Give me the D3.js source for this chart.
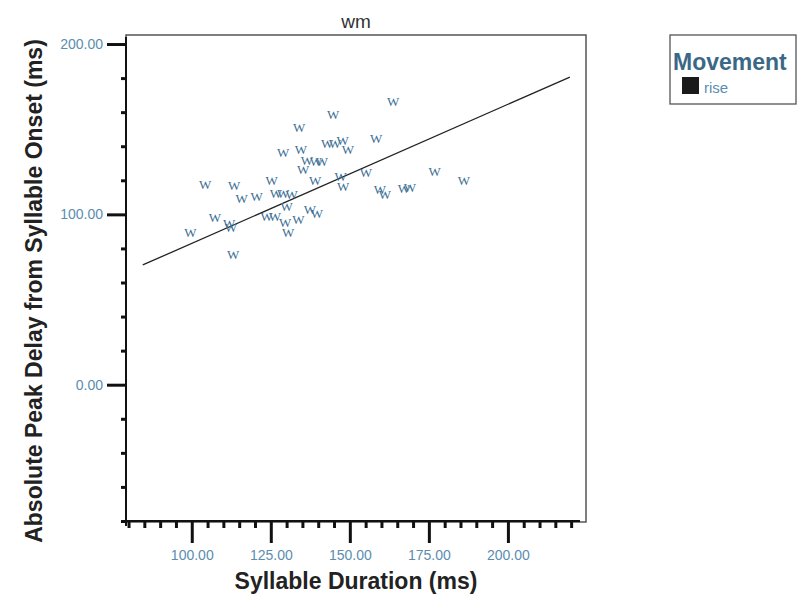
<!DOCTYPE html>
<html>
<head>
<meta charset="utf-8">
<script src="https://cdn.jsdelivr.net/npm/d3@7"></script>
<style>
  html, body { margin: 0; padding: 0; background: #fff; }
  svg { display: block; }
</style>
</head>
<body>
<svg id="chart" width="799" height="599"></svg>
<script>
// Syllable duration (ms) for each "rise" token of speaker wm
const duration = [
  99.6, 104.2, 107.3, 111.8, 112.4, 113.1, 113.4, 115.8, 120.5, 125.3,
  123.7, 126.3, 126.6, 128.9, 131.6, 130.0, 129.5, 133.7, 130.5, 137.4,
  139.6, 134.0, 128.9, 134.5, 136.4, 139.3, 141.2, 135.2, 139.0, 147.1,
  147.9, 144.7, 163.7, 158.3, 142.8, 145.3, 147.7, 149.4, 155.1, 159.5,
  161.1, 167.1, 169.0, 176.8, 186.1
];
// Absolute peak delay from syllable onset (ms), same order
const peakDelay = [
  89.2, 117.6, 98.3, 94.7, 92.3, 76.4, 117.2, 109.6, 110.4, 120.2,
  98.7, 98.7, 112.4, 112.5, 111.4, 104.9, 95.3, 97.1, 89.6, 102.6,
  100.8, 151.1, 136.4, 138.4, 131.9, 131.3, 131.3, 126.3, 120.2, 122.5,
  116.1, 158.9, 166.5, 144.6, 141.9, 141.9, 143.6, 138.4, 124.9, 114.9,
  111.4, 115.2, 115.8, 125.4, 120.2
];
// Fit line end points (duration, delay)
const fitDuration = [84.5, 219.6];
const fitDelay = [70.3, 180.6];

const xMajorTicks = [100, 125, 150, 175, 200];
const xMinorTicks = d3.range(80, 221, 5).filter(v => !xMajorTicks.includes(v));
const yMajorTicks = [0, 100, 200];
const yMinorTicks = d3.range(-80, 201, 20).filter(v => !yMajorTicks.includes(v));

const panelTitle = "wm";
const xTitle = "Syllable Duration (ms)";
const yTitle = "Absolute Peak Delay from Syllable Onset (ms)";
const legendTitle = "Movement";
const legendLabels = ["rise"];
const markerGlyph = "w";

const svg = d3.select("#chart");
const frame = { left: 126, right: 586, top: 35, bottom: 522 };

const x = d3.scaleLinear().domain([79.2, 224.7]).range([frame.left, frame.right]);
const y = d3.scaleLinear().domain([-80.6, 205.3]).range([frame.bottom, frame.top]);

const fmt = d3.format(".2f");
const tickColor = "#5b8db0";
const sans = "'Liberation Sans', Arial, Helvetica, sans-serif";

svg.append("rect").attr("width", 799).attr("height", 599).attr("fill", "#fff");

// plot frame
svg.append("rect")
  .attr("x", frame.left).attr("y", frame.top)
  .attr("width", frame.right - frame.left).attr("height", frame.bottom - frame.top)
  .attr("fill", "none").attr("stroke", "#555").attr("stroke-width", 1.5);

function styleAxis(g, width) {
  g.select(".domain").remove();
  g.selectAll(".tick line").attr("stroke", "#111").attr("stroke-width", width);
  g.selectAll(".tick text")
    .attr("fill", tickColor)
    .style("font-family", sans)
    .style("font-size", "14px");
}

// x axis: minor then major ticks
svg.append("g").attr("transform", `translate(0,${frame.bottom})`)
  .call(d3.axisBottom(x).tickValues(xMinorTicks).tickSize(6).tickFormat(""))
  .call(g => styleAxis(g, 3));
svg.append("g").attr("transform", `translate(0,${frame.bottom})`)
  .call(d3.axisBottom(x).tickValues(xMajorTicks).tickSize(21).tickPadding(7).tickFormat(fmt))
  .call(g => styleAxis(g, 3));
svg.append("line")
  .attr("x1", frame.left - 2).attr("x2", frame.right - 6)
  .attr("y1", frame.bottom - 1).attr("y2", frame.bottom - 1)
  .attr("stroke", "#111").attr("stroke-width", 2);

// y axis: minor then major ticks
svg.append("g").attr("transform", `translate(${frame.left},0)`)
  .call(d3.axisLeft(y).tickValues(yMinorTicks).tickSize(5).tickFormat(""))
  .call(g => styleAxis(g, 3));
svg.append("g").attr("transform", `translate(${frame.left},0)`)
  .call(d3.axisLeft(y).tickValues(yMajorTicks).tickSize(19).tickPadding(4).tickFormat(fmt))
  .call(g => styleAxis(g, 3));
svg.append("line")
  .attr("x1", frame.left).attr("x2", frame.left)
  .attr("y1", frame.top + 2).attr("y2", frame.bottom + 4)
  .attr("stroke", "#111").attr("stroke-width", 2);

// fit line
const fitPts = fitDuration.map((d, i) => [d, fitDelay[i]]);
svg.append("path")
  .datum(fitPts)
  .attr("d", d3.line().x(d => x(d[0])).y(d => y(d[1])))
  .attr("fill", "none").attr("stroke", "#222").attr("stroke-width", 1.3);

// markers
svg.append("g").selectAll("text")
  .data(duration.map((d, i) => [d, peakDelay[i]]))
  .join("text")
  .attr("x", d => x(d[0]))
  .attr("y", d => y(d[1]))
  .attr("text-anchor", "middle")
  .attr("dy", "0.35em")
  .attr("fill", "#3c6f95")
  .style("font-family", "'Liberation Serif', 'Times New Roman', serif")
  .style("font-size", "13px")
  .text(markerGlyph.toUpperCase());

// panel title
svg.append("text")
  .attr("x", (frame.left + frame.right) / 2).attr("y", 28)
  .attr("text-anchor", "middle")
  .attr("fill", "#333")
  .style("font-family", sans).style("font-size", "19px")
  .text(panelTitle);

// axis titles
svg.append("text")
  .attr("x", 356).attr("y", 589)
  .attr("text-anchor", "middle")
  .attr("fill", "#222")
  .style("font-family", sans).style("font-size", "23px").style("font-weight", "bold")
  .text(xTitle);

svg.append("text")
  .attr("transform", "translate(42,291) rotate(-90)")
  .attr("text-anchor", "middle")
  .attr("fill", "#222")
  .style("font-family", sans).style("font-size", "23px").style("font-weight", "bold")
  .text(yTitle);

// legend
const legend = svg.append("g");
legend.append("rect")
  .attr("x", 670).attr("y", 35).attr("width", 126).attr("height", 69)
  .attr("fill", "#fff").attr("stroke", "#555").attr("stroke-width", 1.3);
legend.append("text")
  .attr("x", 673).attr("y", 70)
  .attr("fill", "#3a6886")
  .style("font-family", sans).style("font-size", "23px").style("font-weight", "bold")
  .text(legendTitle);
legendLabels.forEach((lab, i) => {
  legend.append("rect")
    .attr("x", 682).attr("y", 77 + i * 20).attr("width", 17).attr("height", 17)
    .attr("fill", "#1a1a1a");
  legend.append("text")
    .attr("x", 704).attr("y", 93 + i * 20)
    .attr("fill", tickColor)
    .style("font-family", sans).style("font-size", "15px")
    .text(lab);
});
</script>
</body>
</html>
